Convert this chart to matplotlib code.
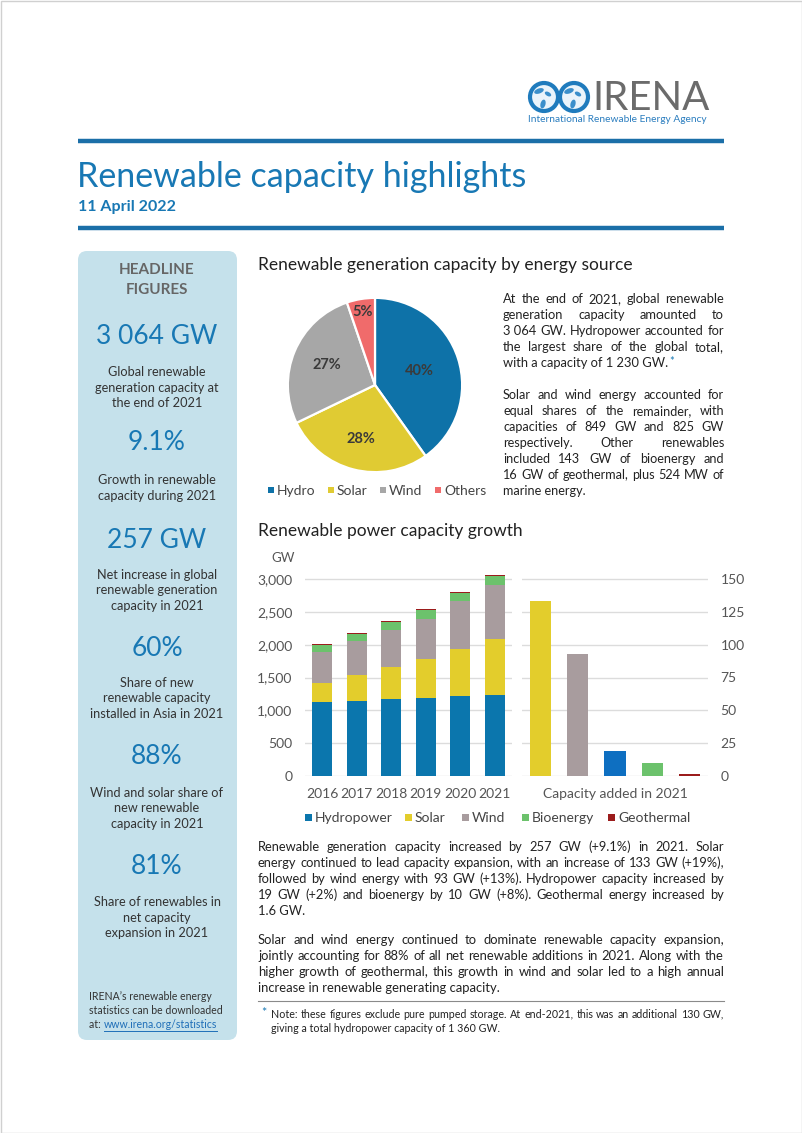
import numpy as np
import matplotlib
matplotlib.use('Agg')
import matplotlib.pyplot as plt
from matplotlib.patches import FancyBboxPatch, Rectangle, Circle, Ellipse
from matplotlib.ticker import FuncFormatter

plt.rcParams['font.family'] = ['Lato', 'DejaVu Sans']

W, H = 802, 1133

# ---- data ----
years = ['2016', '2017', '2018', '2019', '2020', '2021']
hydro = [1122, 1145, 1167, 1189, 1211, 1230]
solar = [295, 390, 486, 586, 716, 849]
wind = [467, 514, 564, 622, 733, 825]
bio = [111, 118, 124, 130, 133, 143]
geo = [12, 13, 13, 14, 14, 16]
stack_names = ['Hydropower', 'Solar', 'Wind', 'Bioenergy', 'Geothermal']
stack_colors = ['#0b76ad', '#e3cd2c', '#a89c9e', '#6cc26c', '#9b1c1c']

added_names = ['Solar', 'Wind', 'Hydropower', 'Bioenergy', 'Geothermal']
added_2021 = [133, 93, 19, 10, 1.6]
added_colors = ['#e3cd2c', '#a89c9e', '#0e6fc1', '#6cc26c', '#9b1c1c']

pie_labels = ['Hydro', 'Solar', 'Wind', 'Others']
pie_values = [1230, 849, 825, 160]
pie_colors = ['#0e72a8', '#e0cb33', '#a7a7a7', '#f06b6b']
pie_label_dist = [0.54, 0.64, 0.6, 0.85]

headline_values = ['3\u00a0064 GW', '9.1%', '257 GW', '60%', '88%', '81%']
headline_notes = [
    ['Global renewable', 'generation capacity at', 'the end of 2021'],
    ['Growth in renewable', 'capacity during 2021'],
    ['Net increase in global', 'renewable generation', 'capacity in 2021'],
    ['Share of new', 'renewable capacity', 'installed in Asia in 2021'],
    ['Wind and solar share of', 'new renewable', 'capacity in 2021'],
    ['Share of renewables in', 'net capacity', 'expansion in 2021'],
]

pie_text = [
    ['At the end of 2021, global renewable',
     'generation capacity amounted to',
     '3\u00a0064 GW. Hydropower accounted for',
     'the largest share of the global total,',
     'with a capacity of 1\u00a0230 GW.'],
    ['Solar and wind energy accounted for',
     'equal shares of the remainder, with',
     'capacities of 849 GW and 825 GW',
     'respectively. Other renewables',
     'included 143 GW of bioenergy and',
     '16 GW of geothermal, plus 524 MW of',
     'marine energy.'],
]

body_text = [
    ['Renewable generation capacity increased by 257 GW (+9.1%) in 2021. Solar',
     'energy continued to lead capacity expansion, with an increase of 133 GW (+19%),',
     'followed by wind energy with 93 GW (+13%). Hydropower capacity increased by',
     '19 GW (+2%) and bioenergy by 10 GW (+8%). Geothermal energy increased by',
     '1.6 GW.'],
    ['Solar and wind energy continued to dominate renewable capacity expansion,',
     'jointly accounting for 88% of all net renewable additions in 2021. Along with the',
     'higher growth of geothermal, this growth in wind and solar led to a high annual',
     'increase in renewable generating capacity.'],
]

note_text = ['Note: these figures exclude pure pumped storage. At end-2021, this was an additional 130 GW,',
             'giving a total hydropower capacity of 1\u00a0360 GW.']

BLUE = '#1878b4'
DARK = '#222222'

fig = plt.figure(figsize=(W / 100, H / 100), dpi=100)
fig.patch.set_facecolor('white')

# background axes in pixel units (y down)
bg = fig.add_axes([0, 0, 1, 1], zorder=0)
bg.set_xlim(0, W)
bg.set_ylim(H, 0)
bg.axis('off')
renderer = fig.canvas.get_renderer()


def justify(lines, x0, x1, y0, dy, size, color=DARK):
    """Draws lines of text justified between x0 and x1 (last line left)."""
    widths = []
    for line in lines:
        t = bg.text(0, 0, line, fontsize=size)
        widths.append(t.get_window_extent(renderer).width)
        t.remove()
    if max(widths) > (x1 - x0):
        size = size * (x1 - x0) / max(widths) * 0.995
    end = x0
    for i, line in enumerate(lines):
        y = y0 + i * dy
        words = line.split(' ')
        if i == len(lines) - 1 or len(words) == 1:
            t = bg.text(x0, y, line, fontsize=size, color=color, va='center')
            end = x0 + t.get_window_extent(renderer).width
            continue
        arts = [bg.text(0, y, w, fontsize=size, color=color, va='center') for w in words]
        ws = [a.get_window_extent(renderer).width for a in arts]
        gap = (x1 - x0 - sum(ws)) / (len(words) - 1)
        x = x0
        for a, w in zip(arts, ws):
            a.set_x(x)
            x += w + gap
    return end


# page frame
bg.add_patch(Rectangle((0.5, 0.5), W - 1, H - 1, fill=False, edgecolor='#d0d0d0', lw=1))

# ---- logo (two globes forming an infinity sign) ----
for cx in [544, 574]:
    bg.add_patch(Circle((cx, 97), 14, facecolor='#eaf4fb', edgecolor='#1f7bbd', lw=3))
    bg.add_patch(Ellipse((cx - 5, 91), 10, 5, angle=-20, facecolor='#3b8fcb', edgecolor='none'))
    bg.add_patch(Ellipse((cx + 4, 94), 7, 4, angle=30, facecolor='#3b8fcb', edgecolor='none'))
    bg.add_patch(Ellipse((cx - 1, 104), 5, 9, angle=15, facecolor='#3b8fcb', edgecolor='none'))
bg.text(592, 98, 'IRENA', fontsize=29, color='#6b6b6b', va='center', ha='left')
bg.text(528, 119, 'International Renewable Energy Agency', fontsize=7.3, color='#2a7dbf', va='center')

# ---- title block ----
bg.plot([78, 724], [141, 141], color='#1b6fa8', lw=3.2, solid_capstyle='butt')
bg.plot([78, 724], [228, 228], color='#1b6fa8', lw=3.2, solid_capstyle='butt')
bg.text(77, 177, 'Renewable capacity highlights', fontsize=24.5, color=BLUE, va='center')
bg.text(78, 207, '11 April 2022', fontsize=11.5, color=BLUE, weight='bold', va='center')

# ---- headline panel ----
bg.add_patch(FancyBboxPatch((86, 259), 143, 773, boxstyle='round,pad=8,rounding_size=9',
                            facecolor='#c5e1eb', edgecolor='none'))
bg.text(157, 270, 'HEADLINE', fontsize=11, color='#666666', weight='bold', ha='center', va='center')
bg.text(157, 290, 'FIGURES', fontsize=11, color='#666666', weight='bold', ha='center', va='center')
value_y = [337, 443, 540, 648, 757, 866]
note_y = [372, 480, 575, 683, 793, 902]
for v, vy, note, ny in zip(headline_values, value_y, headline_notes, note_y):
    bg.text(157, vy, v, fontsize=19, color=BLUE, ha='center', va='center')
    for k, ln in enumerate(note):
        bg.text(157, ny + k * 15.5, ln, fontsize=9.2, color='#333333', ha='center', va='center')
bg.text(89, 996, "IRENA\u2019s renewable energy", fontsize=7.6, color='#333333', va='center')
bg.text(89, 1011, 'statistics can be downloaded', fontsize=7.6, color='#333333', va='center')
t = bg.text(89, 1025, 'at: ', fontsize=7.6, color='#333333', va='center')
ux = 89 + t.get_window_extent(renderer).width
u = bg.text(ux, 1025, 'www.irena.org/statistics', fontsize=7.6, color='#1f6fb8', va='center')
uw = u.get_window_extent(renderer).width
bg.plot([ux, ux + uw], [1031, 1031], color='#1f6fb8', lw=0.7)

# ---- pie section ----
bg.text(258, 265, 'Renewable generation capacity by energy source', fontsize=12.5, color=DARK, va='center')
axp = fig.add_axes([287 / W, 1 - 473 / H, 176 / W, 176 / H], zorder=1)
wedges, _ = axp.pie(pie_values, colors=pie_colors, startangle=90, counterclock=False,
                    wedgeprops=dict(edgecolor='white', linewidth=1.6))
axp.set_xlim(-1.01, 1.01)
axp.set_ylim(-1.01, 1.01)
axp.set_aspect('equal')
total = sum(pie_values)
for w, val, d in zip(wedges, pie_values, pie_label_dist):
    ang = np.deg2rad((w.theta1 + w.theta2) / 2)
    axp.text(d * np.cos(ang), d * np.sin(ang), f'{round(val / total * 100)}%',
             ha='center', va='center', fontsize=10.5, weight='bold', color='#3a3a3a')

pie_leg_x = [268, 328, 380, 435]
for lx, name, c in zip(pie_leg_x, pie_labels, pie_colors):
    bg.add_patch(Rectangle((lx, 487), 6, 6, facecolor=c, edgecolor='none'))
    bg.text(lx + 9, 491, name, fontsize=10, color='#444444', va='center')

end = justify(pie_text[0], 503, 724, 299, 16, 9.5)
bg.text(end + 1, 361, '*', fontsize=8, color=BLUE, va='center')
justify(pie_text[1], 503, 724, 395, 16, 9.5)

# ---- bar section ----
bg.text(258, 531, 'Renewable power capacity growth', fontsize=12.5, color=DARK, va='center')
bg.text(283, 558, 'GW', fontsize=9.5, color='#555555', ha='center', va='center')

ax_h = (776 - 579) / 3000 * 3100
ax1 = fig.add_axes([305 / W, 1 - 776 / H, 207 / W, ax_h / H], zorder=1)
ax1.patch.set_alpha(0)
x = np.arange(len(years))
bottom = np.zeros(len(years))
for vals, c in zip([hydro, solar, wind, bio, geo], stack_colors):
    ax1.bar(x, vals, 0.58, bottom=bottom, color=c)
    bottom += np.array(vals)
ax1.set_xlim(-0.5, len(years) - 0.5)
ax1.set_ylim(0, 3100)
ax1.set_yticks(range(0, 3001, 500))
ax1.yaxis.set_major_formatter(FuncFormatter(lambda v, p: f'{v:,.0f}'))
ax1.set_xticks(x)
ax1.set_xticklabels(years)

ax2 = fig.add_axes([522 / W, 1 - 776 / H, 186 / W, ax_h / H], zorder=1)
ax2.patch.set_alpha(0)
x2 = np.arange(len(added_2021))
ax2.bar(x2, added_2021, 0.57, color=added_colors)
ax2.set_xlim(-0.5, len(added_2021) - 0.5)
ax2.set_ylim(0, 155)
ax2.set_yticks(range(0, 151, 25))
ax2.yaxis.tick_right()
ax2.set_xticks([])
ax2.set_xlabel('Capacity added in 2021', fontsize=10, color='#555555', labelpad=9)

for ax in [ax1, ax2]:
    for s in ax.spines.values():
        s.set_visible(False)
    ax.yaxis.grid(True, color='#dcdcdc', lw=1)
    ax.set_axisbelow(True)
    ax.tick_params(length=0, labelsize=10, colors='#555555', pad=9)

bar_leg_x = [305, 405, 462, 522, 608]
for lx, name, c in zip(bar_leg_x, stack_names, stack_colors):
    bg.add_patch(Rectangle((lx, 814), 7, 7, facecolor=c, edgecolor='none'))
    bg.text(lx + 10, 818, name, fontsize=10, color='#444444', va='center')

# ---- body text ----
justify(body_text[0], 258, 724, 847, 16, 9.6)
justify(body_text[1], 258, 724, 940, 16, 9.6)
bg.plot([258, 724], [1001, 1001], color='#8a8a8a', lw=0.8)
bg.text(261, 1013, '*', fontsize=9, color=BLUE, va='center')
justify(note_text, 271, 724, 1014, 15, 7.8)

fig.savefig('out.png', dpi=100)
